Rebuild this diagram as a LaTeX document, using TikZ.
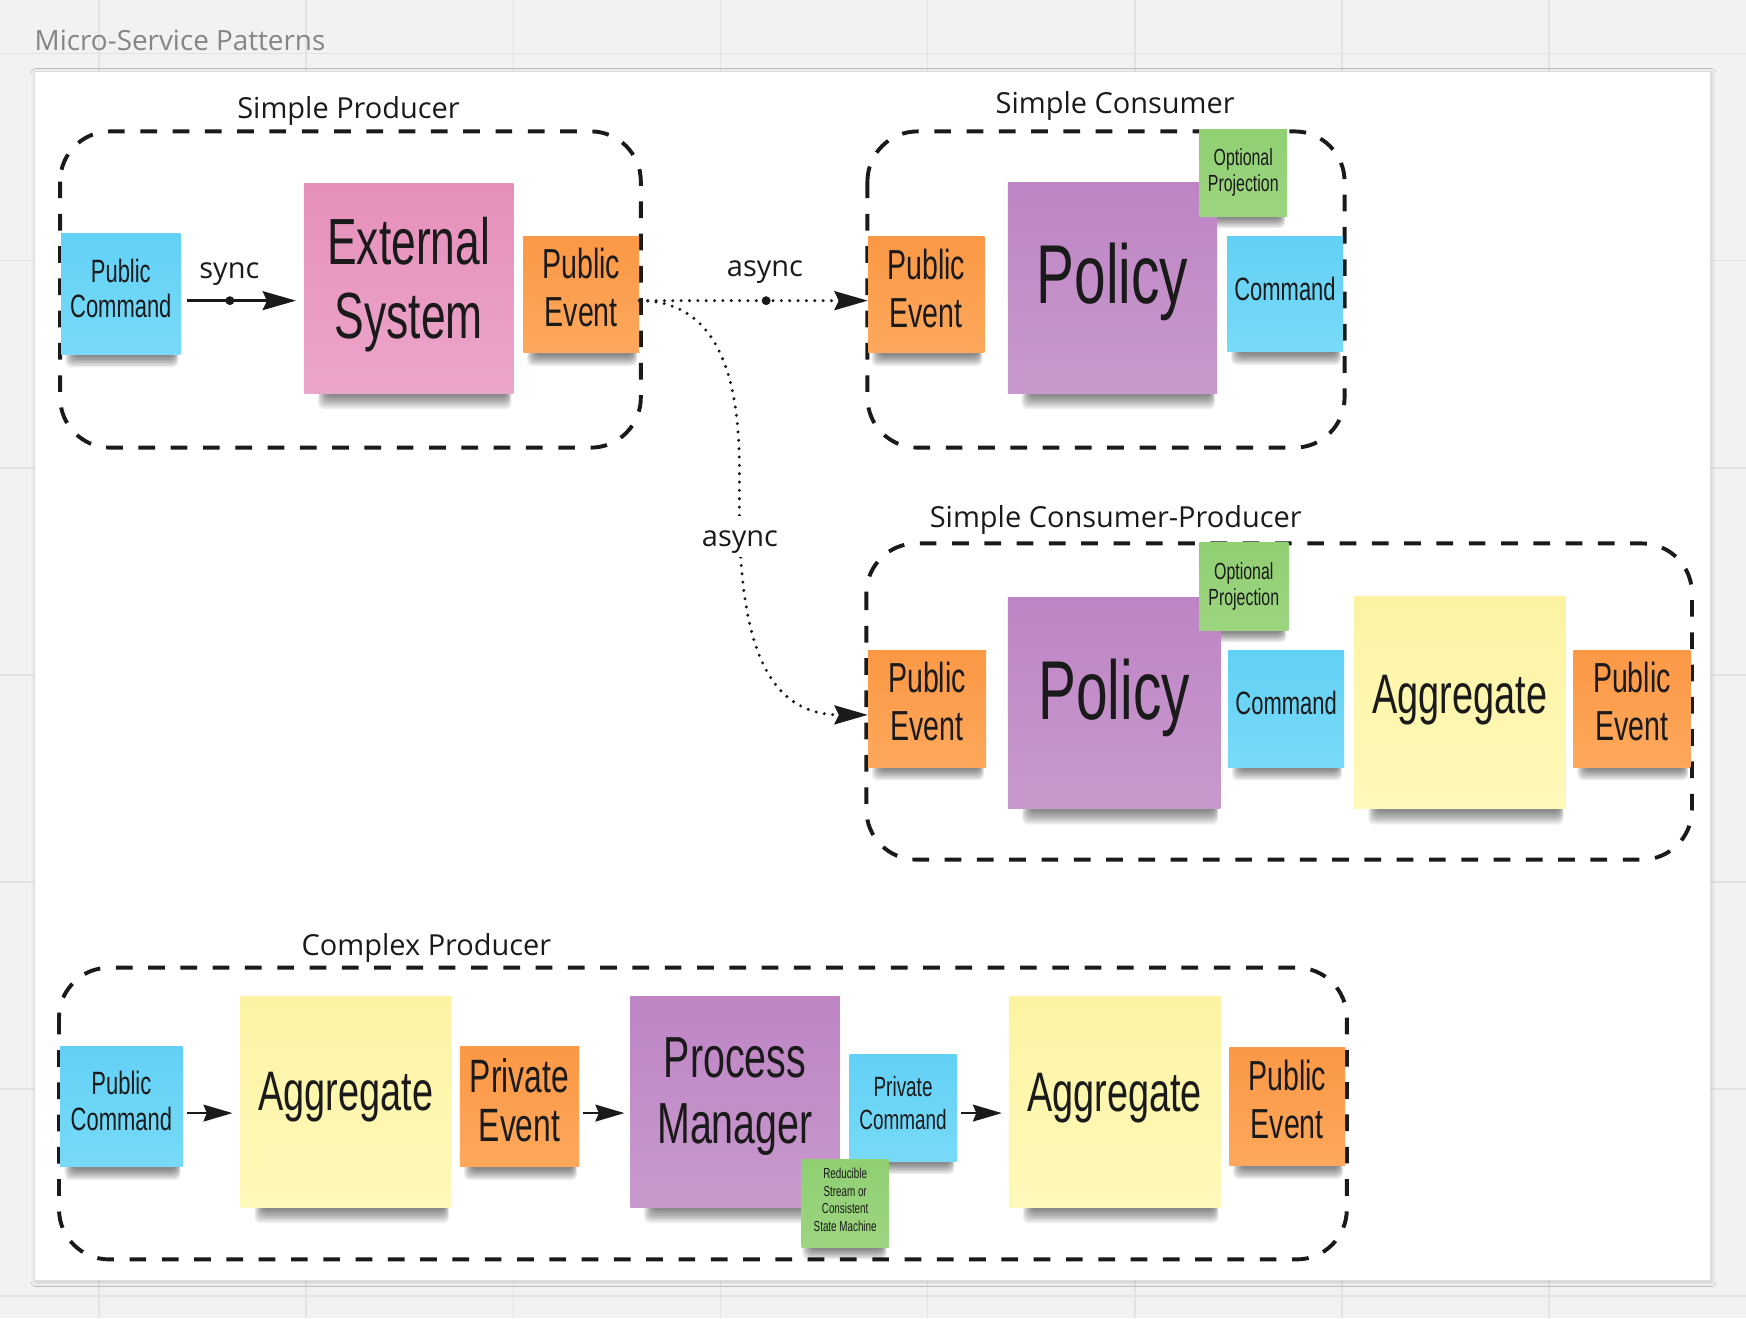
\documentclass[tikz,border=0pt]{standalone}
\usepackage{fontspec}
\usetikzlibrary{arrows.meta,shadows.blur,calc}

% Fonts: a condensed face for the sticky notes, Open Sans for captions
\newfontfamily\handfont[FakeStretch=0.68]{Liberation Sans}
\newfontfamily\labelfont{Open Sans}

% Board colours
\definecolor{canvas}{HTML}{F2F2F2}
\definecolor{gridline}{HTML}{E3E3E3}
\definecolor{paneledge}{HTML}{DDDDDD}
\definecolor{ink}{HTML}{1A1A1A}
\definecolor{titlegray}{HTML}{858585}
% Sticky note colours (top / bottom of the gentle gradient)
\definecolor{blueA}{HTML}{62D1F5}\definecolor{blueB}{HTML}{78DAF8}
\definecolor{orangeA}{HTML}{FB9845}\definecolor{orangeB}{HTML}{FDA85C}
\definecolor{pinkA}{HTML}{E68FBB}\definecolor{pinkB}{HTML}{ECA6CA}
\definecolor{purpleA}{HTML}{BE84C5}\definecolor{purpleB}{HTML}{C899CD}
\definecolor{yellowA}{HTML}{FCF3A2}\definecolor{yellowB}{HTML}{FEF9BA}
\definecolor{greenA}{HTML}{90CF72}\definecolor{greenB}{HTML}{9CD580}

% drawing layers: board underneath, then the soft note shadows, then the notes
\pgfdeclarelayer{board}
\pgfdeclarelayer{shade}
\pgfsetlayers{board,shade,main}

\tikzset{
  note/.style={rectangle, inner sep=0pt, align=center, text=ink},
  fs/.style 2 args={font=\handfont\fontsize{#1}{#2}\selectfont},
  % raise the text inside a note by deepening its last line
  lift/.style={execute at end node={\rule[-#1pt]{0pt}{0pt}}},
  cmdnote/.style={note, top color=blueA, bottom color=blueB},
  evtnote/.style={note, top color=orangeA, bottom color=orangeB},
  extnote/.style={note, top color=pinkA, bottom color=pinkB},
  polnote/.style={note, top color=purpleA, bottom color=purpleB},
  aggnote/.style={note, top color=yellowA, bottom color=yellowB},
  prjnote/.style={note, top color=greenA, bottom color=greenB},
  size/.style 2 args={minimum width=#1pt, minimum height=#2pt},
  shadowlayer/.style={fill=black, fill opacity=0.07, rounded corners=5pt},
  groupline/.style={draw=ink, line width=3.5pt, dash pattern=on 15pt off 14pt,
    rounded corners=45pt},
  caption/.style={font=\labelfont\fontsize{26}{30}\selectfont, text=ink,
    inner sep=0pt, anchor=base},
  flow/.style={draw=ink, line width=2.4pt,
    -{Stealth[length=30pt, width=17pt, inset=4pt]}},
  shortflow/.style={draw=ink, line width=2.4pt,
    -{Stealth[length=26pt, width=15pt, inset=3pt]}},
  asyncflow/.style={flow, line width=3pt, line cap=round,
    dash pattern=on 0pt off 7.5pt},
  hub/.style={circle, fill=ink, minimum size=8pt, inner sep=0pt},
}

\begin{document}
\begin{tikzpicture}[x=1pt, y=-1pt]
\useasboundingbox (0,0) rectangle (1568,1184);

\begin{pgfonlayer}{board}
% board background and grid
\fill[canvas] (0,0) rectangle (1568,1184);
\foreach \gx in {89,275,461,647,833,1019,1205,1391}
  \draw[gridline, line width=1.5pt] (\gx,0) -- (\gx,1184);
\foreach \gy in {48,234,420,606,792,978,1164}
  \draw[gridline, line width=1.5pt] (0,\gy) -- (1568,\gy);

% frame
\node[font=\labelfont\fontsize{25}{30}\selectfont, text=titlegray,
  inner sep=0pt, anchor=base west] (title) at (31,45) {Micro-Service Patterns};
\path[fill=white, draw=paneledge, line width=0.8pt,
  blur shadow={shadow xshift=1pt, shadow yshift=-1.5pt,
    shadow blur radius=4pt, shadow opacity=18}]
  (31,64) rectangle (1536,1150);

% group outlines
\draw[groupline] (54,118) rectangle (575.5,402);
\draw[groupline] (779,118) rectangle (1207.5,402);
\draw[groupline] (778,488) rectangle (1519.5,772);
\draw[groupline] (53,869) rectangle (1209.5,1131);
\end{pgfonlayer}

% group captions
\node[caption] (capSP)  at (313,106)    {Simple Producer};
\node[caption] (capSC)  at (1001.5,101.5) {Simple Consumer};
\node[caption] (capSCP) at (1002,473.5) {Simple Consumer-Producer};
\node[caption] (capCP)  at (383,857.7)  {Complex Producer};

% ---- Simple Producer
\node[cmdnote, size={107}{108}, fs={29}{32}, lift=10] (pc1) at (108.5,264) {Public\\Command};
\node[extnote, size={188}{188}, fs={58.6}{66}, lift=19.3] (ext) at (367,259) {External\\System};
\node[evtnote, size={104}{105}, fs={37.7}{43}, lift=13] (pe1) at (522,264.5) {Public\\Event};

% ---- Simple Consumer
\node[evtnote, size={104.5}{105}, fs={37.7}{43}, lift=12] (pe2) at (831.75,264.5) {Public\\Event};
\node[polnote, size={188}{189}, fs={75}{80}, lift=25.75] (pol1) at (999,258.5) {Policy};
\node[prjnote, size={79}{78}, fs={21}{23}] (opt1) at (1116.5,155) {Optional\\Projection};
\node[cmdnote, size={104}{104}, fs={29}{32}, lift=9] (cmd1) at (1154,264) {Command};

% ---- Simple Consumer-Producer
\node[evtnote, size={106}{105}, fs={37.7}{43}, lift=14] (pe3) at (832.5,636.5) {Public\\Event};
\node[polnote, size={191}{189}, fs={75}{80}, lift=25.75] (pol2) at (1000.5,631.5) {Policy};
\node[prjnote, size={80}{79}, fs={21}{23}] (opt2) at (1117,526.5) {Optional\\Projection};
\node[cmdnote, size={104}{105}, fs={29}{32}, lift=10] (cmd2) at (1155,636.5) {Command};
\node[aggnote, size={190}{190}, fs={50}{55}, lift=14.5] (agg1) at (1311,631) {Aggregate};
\node[evtnote, size={105}{105}, fs={37.7}{43}, lift=14] (pe4) at (1465.5,636.5) {Public\\Event};

% ---- Complex Producer
\node[cmdnote, size={110}{108}, fs={29}{32}, lift=11] (pc2) at (109,994) {Public\\Command};
\node[aggnote, size={189}{189}, fs={50}{55}, lift=18.5] (agg2) at (310.5,989.5) {Aggregate};
\node[evtnote, size={107}{108}, fs={42}{43.5}, lift=12] (pve) at (466.5,994) {Private\\Event};
\node[polnote, size={188}{189}, fs={52}{59}, lift=19.9] (pm) at (660,989.5) {Process\\Manager};
\node[cmdnote, size={96}{96}, fs={25}{30}, lift=9] (pvc) at (811,995) {Private\\Command};
\node[prjnote, size={78}{79}, fs={13}{16}, lift=6] (red) at (759,1080.5)
  {Reducible\\Stream or\\Consistent\\State Machine};
\node[aggnote, size={190}{189}, fs={50}{55}, lift=16.5] (agg3) at (1001,989.5) {Aggregate};
\node[evtnote, size={104}{106}, fs={37.7}{43}, lift=13] (pe5) at (1156,994) {Public\\Event};

% soft shadows under the notes: stacked translucent bands
\begin{pgfonlayer}{shade}
\foreach \nm in {pc1,ext,pe1,pe2,pol1,opt1,cmd1,pe3,pol2,opt2,cmd2,agg1,pe4,
                 pc2,agg2,pve,pm,pvc,red,agg3,pe5}{
  \foreach \k in {1,...,8}{
    \path[shadowlayer] let \p1=(\nm.south west), \p2=(\nm.north east) in
      ({\x1+0.11*(\x2-\x1)-\k*1pt}, {\y1+8pt}) rectangle
      ({\x2-6pt+\k*0.5pt}, {\y1-1pt-\k*(0.9pt+0.004*(\y2-\y1))});
  }
}
\end{pgfonlayer}

% connector rows
\coordinate (rowA) at (0,270);
\coordinate (rowB) at (0,642);
\coordinate (rowC) at (0,999.6);

% sync call
\draw[flow, shorten <=6pt, shorten >=7pt]
  (pc1.east |- rowA) -- node[hub, pos=0.40] (syncdot) {} (ext.west |- rowA);
\node[caption] (syncl) at (206,250) {sync};

% async delivery to the consumer
\draw[asyncflow]
  (pe1.east |- rowA) -- node[hub, pos=0.555] (asyncdot) {} (pe2.west |- rowA);
\node[caption] (asyncl1) at (687,248.6) {async};

% async delivery to the consumer-producer
\draw[asyncflow]
  (pe1.east |- rowA) .. controls (640,270) and (664,330) .. (664,420)
  -- (664,470) .. controls (666,580) and (690,642) .. (pe3.west |- rowB);
\node[caption, fill=white, text height=28pt, text depth=9pt, inner xsep=3pt]
  (asyncl2) at (664.5,491) {async};

% complex producer chain
\draw[shortflow, shorten <=3.6pt, shorten >=7pt] (pc2.east |- rowC) -- (agg2.west |- rowC);
\draw[shortflow, shorten <=3pt, shorten >=5pt] (pve.east |- rowC) -- (pm.west |- rowC);
\draw[shortflow, shorten <=3.5pt, shorten >=6pt] (pvc.east |- rowC) -- (agg3.west |- rowC);

\end{tikzpicture}
\end{document}
